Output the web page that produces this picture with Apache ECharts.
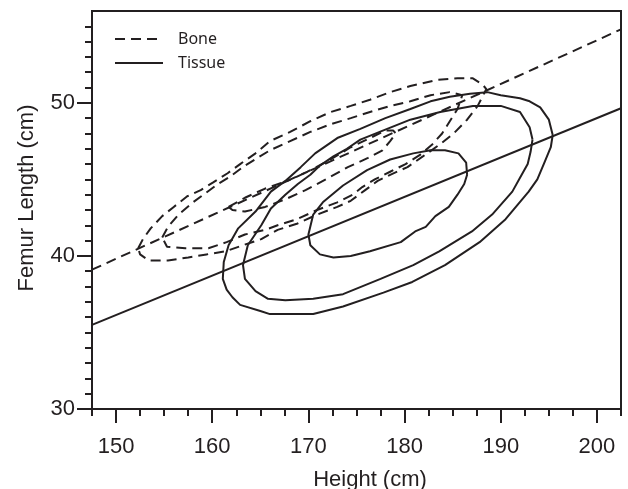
<!DOCTYPE html>
<html>
<head>
<meta charset="utf-8">
<script src="https://cdn.jsdelivr.net/npm/echarts@6/dist/echarts.min.js"></script>
<style>
  html, body { margin: 0; padding: 0; background: #fff; }
  #main { width: 628px; height: 489px; }
</style>
</head>
<body>
<div id="main"></div>
<script>
// regression lines (height, femur length)
var boneLine = [[147.5, 39.1], [202.5, 54.8]];
var tissueLine = [[147.5, 35.5], [202.5, 49.65]];

// bone contours (dashed)
var boneOuter = [
  [152.3, 40.5], [152.8, 41.1], [153.6, 41.8], [154.8, 42.6], [156.0, 43.2], [157.4, 43.9],
  [158.8, 44.3], [160.1, 44.8], [161.6, 45.4], [162.9, 46.0], [164.5, 46.7], [166.0, 47.5],
  [168.1, 48.1], [170.2, 48.8], [172.3, 49.4], [174.4, 49.8], [176.4, 50.2], [178.5, 50.7],
  [180.6, 51.1], [183.4, 51.5], [185.5, 51.6], [187.1, 51.6], [188.1, 51.2], [188.5, 50.9],
  [187.6, 49.8], [186.5, 48.9], [185.1, 48.0], [183.7, 47.3], [181.9, 46.5], [180.3, 45.8],
  [178.5, 45.3], [177.2, 44.9], [175.9, 44.3], [174.4, 43.6], [173.0, 43.2], [170.9, 42.7],
  [168.8, 42.1], [166.8, 41.7], [165.1, 41.1], [163.2, 40.7], [161.4, 40.3], [159.4, 40.1],
  [157.5, 39.9], [155.4, 39.7], [153.4, 39.7], [152.5, 40.1]
];
var boneMiddle = [
  [154.8, 41.2], [155.4, 41.9], [156.5, 42.7], [158.0, 43.5], [159.3, 44.1], [160.6, 44.7],
  [161.9, 45.2], [163.4, 45.9], [166.0, 46.9], [168.1, 47.5], [170.2, 48.1], [172.3, 48.6],
  [174.4, 49.0], [176.4, 49.4], [178.5, 49.8], [180.6, 50.1], [182.7, 50.5], [184.7, 50.7],
  [186.0, 50.5], [185.5, 49.6], [184.7, 48.8], [183.9, 48.0], [182.9, 47.3], [181.6, 46.6],
  [180.1, 46.0], [178.5, 45.5], [176.9, 45.0], [175.6, 44.5], [174.6, 44.0], [173.0, 43.5],
  [170.9, 43.0], [168.8, 42.4], [166.8, 42.0], [165.5, 41.7], [163.4, 41.4], [161.5, 40.9],
  [159.6, 40.5], [157.2, 40.5], [155.3, 40.6]
];
var boneInner = [
  [161.7, 43.2], [163.4, 43.8], [165.5, 44.4], [167.8, 44.9], [169.9, 45.5], [172.3, 46.3],
  [174.4, 47.1], [176.4, 47.7], [178.0, 48.2], [178.8, 48.2], [179.1, 48.0], [178.5, 47.5],
  [177.7, 46.9], [176.2, 46.4], [174.1, 45.8], [172.1, 45.1], [169.7, 44.3], [167.6, 43.7],
  [165.5, 43.2], [163.4, 42.9], [162.1, 43.0]
];

// tissue contours (solid)
var tissueOuter = [
  [195.4, 47.9], [195.0, 48.9], [194.1, 49.7], [193.0, 50.1], [192.0, 50.3], [190.0, 50.5],
  [188.6, 50.7], [186.8, 50.6], [184.7, 50.4], [182.7, 50.1], [180.6, 49.6], [178.0, 49.0],
  [175.4, 48.3], [173.0, 47.7], [170.7, 46.7], [169.2, 45.8], [167.6, 44.9], [166.1, 44.2],
  [164.5, 42.9], [162.7, 41.8], [161.7, 40.7], [161.2, 39.6], [161.1, 38.5], [161.5, 37.8],
  [162.1, 37.3], [162.9, 36.8], [165.0, 36.4], [166.0, 36.2], [170.5, 36.2], [173.6, 36.7],
  [177.8, 37.6], [180.8, 38.3], [184.2, 39.4], [187.8, 40.9], [190.5, 42.4], [192.9, 44.2],
  [193.8, 45.0], [194.6, 46.2], [195.2, 47.1]
];
var tissueMiddle = [
  [193.3, 47.6], [193.0, 48.4], [192.0, 49.4], [190.0, 49.8], [187.1, 49.8], [183.7, 49.4],
  [180.6, 48.9], [177.8, 48.2], [175.4, 47.6], [174.0, 47.0], [172.6, 46.5], [171.2, 45.9],
  [170.2, 45.3], [168.9, 44.7], [167.6, 44.0], [166.1, 43.1], [165.1, 42.0], [163.7, 40.7],
  [163.2, 39.4], [163.4, 38.5], [164.5, 37.7], [165.8, 37.2], [167.6, 37.1], [170.5, 37.2],
  [173.6, 37.5], [177.5, 38.5], [180.9, 39.4], [183.6, 40.3], [187.0, 41.6], [189.1, 42.7],
  [191.2, 44.2], [192.0, 45.1], [192.8, 46.0], [193.1, 46.8]
];
var tissueInner = [
  [186.5, 45.3], [186.4, 46.1], [185.6, 46.7], [184.2, 46.9], [182.7, 46.9], [180.9, 46.7],
  [178.5, 46.3], [176.1, 45.6], [173.6, 44.6], [171.5, 43.5], [170.5, 42.7], [170.0, 41.4],
  [170.2, 40.7], [171.2, 40.1], [172.6, 39.9], [174.4, 40.0], [176.4, 40.3], [179.6, 40.9],
  [181.1, 41.6], [182.2, 41.9], [183.2, 42.6], [184.6, 43.2], [185.5, 44.0], [186.2, 44.7]
];

// ticks
var xMajorTicks = [150, 160, 170, 180, 190, 200];
var xMinorTicks = [147.5, 152.5, 155, 157.5, 162.5, 165, 167.5, 172.5, 175, 177.5,
  182.5, 185, 187.5, 192.5, 195, 197.5, 202.5];
var yMajorTicks = [30, 40, 50];
var yMinorTicks = [31, 32, 33, 34, 35, 36, 37, 38, 39, 41, 42, 43, 44, 45, 46, 47, 48, 49,
  51, 52, 53, 54, 55];

var ink = '#231f20';
var dash = [10, 6];

function closed(arr) {
  return arr.concat([arr[0]]);
}

function mkSeries(name, data, dashed) {
  return {
    name: name,
    type: 'line',
    data: data,
    symbol: 'none',
    smooth: false,
    silent: true,
    lineStyle: { color: ink, width: 2, type: dashed ? dash : 'solid' },
    itemStyle: { color: ink }
  };
}

var labelFont = { color: ink, fontSize: 22, fontFamily: 'Liberation Sans', lineHeight: 22 };

var myChart = echarts.init(document.getElementById('main'));
myChart.setOption({
  animation: false,
  backgroundColor: '#fff',
  grid: {
    show: true,
    left: 92,
    right: 7,
    top: 11,
    bottom: 80,
    outerBoundsMode: 'none',
    containLabel: false,
    borderColor: ink,
    borderWidth: 2
  },
  legend: {
    data: ['Bone', 'Tissue'],
    orient: 'vertical',
    left: 114,
    top: 31,
    padding: 0,
    itemWidth: 48,
    itemHeight: 16,
    itemGap: 8,
    itemStyle: { opacity: 0 },
    textStyle: { color: ink, fontSize: 16, fontFamily: 'Noto Sans', padding: [0, 0, 0, 10] }
  },
  xAxis: [{
    type: 'value',
    min: 147.5,
    max: 202.5,
    position: 'bottom',
    name: 'Height (cm)',
    nameLocation: 'middle',
    nameGap: 60,
    nameTextStyle: Object.assign({ padding: [0, 0, 0, 27] }, labelFont),
    axisLine: { show: true, lineStyle: { color: ink, width: 2 } },
    axisTick: { show: true, customValues: xMajorTicks, length: 14, lineStyle: { color: ink, width: 2 } },
    axisLabel: Object.assign({ customValues: xMajorTicks, margin: 27 }, labelFont),
    splitLine: { show: false }
  }, {
    type: 'value',
    min: 147.5,
    max: 202.5,
    position: 'bottom',
    axisLine: { show: false },
    axisTick: { show: true, customValues: xMinorTicks, length: 7, lineStyle: { color: ink, width: 2 } },
    axisLabel: { show: false },
    splitLine: { show: false }
  }],
  yAxis: [{
    type: 'value',
    min: 30,
    max: 56,
    position: 'left',
    name: 'Femur Length (cm)',
    nameLocation: 'middle',
    nameGap: 54,
    nameTextStyle: Object.assign({ padding: [0, 0, 0, 24] }, labelFont),
    axisLine: { show: true, lineStyle: { color: ink, width: 2 } },
    axisTick: { show: true, customValues: yMajorTicks, length: 15, lineStyle: { color: ink, width: 2 } },
    axisLabel: Object.assign({ customValues: yMajorTicks, margin: 17 }, labelFont),
    splitLine: { show: false }
  }, {
    type: 'value',
    min: 30,
    max: 56,
    position: 'left',
    axisLine: { show: false },
    axisTick: { show: true, customValues: yMinorTicks, length: 7, lineStyle: { color: ink, width: 2 } },
    axisLabel: { show: false },
    splitLine: { show: false }
  }],
  series: [
    mkSeries('Bone', boneLine, true),
    mkSeries('Bone', closed(boneOuter), true),
    mkSeries('Bone', closed(boneMiddle), true),
    mkSeries('Bone', closed(boneInner), true),
    mkSeries('Tissue', tissueLine, false),
    mkSeries('Tissue', closed(tissueOuter), false),
    mkSeries('Tissue', closed(tissueMiddle), false),
    mkSeries('Tissue', closed(tissueInner), false)
  ]
});
</script>
</body>
</html>
